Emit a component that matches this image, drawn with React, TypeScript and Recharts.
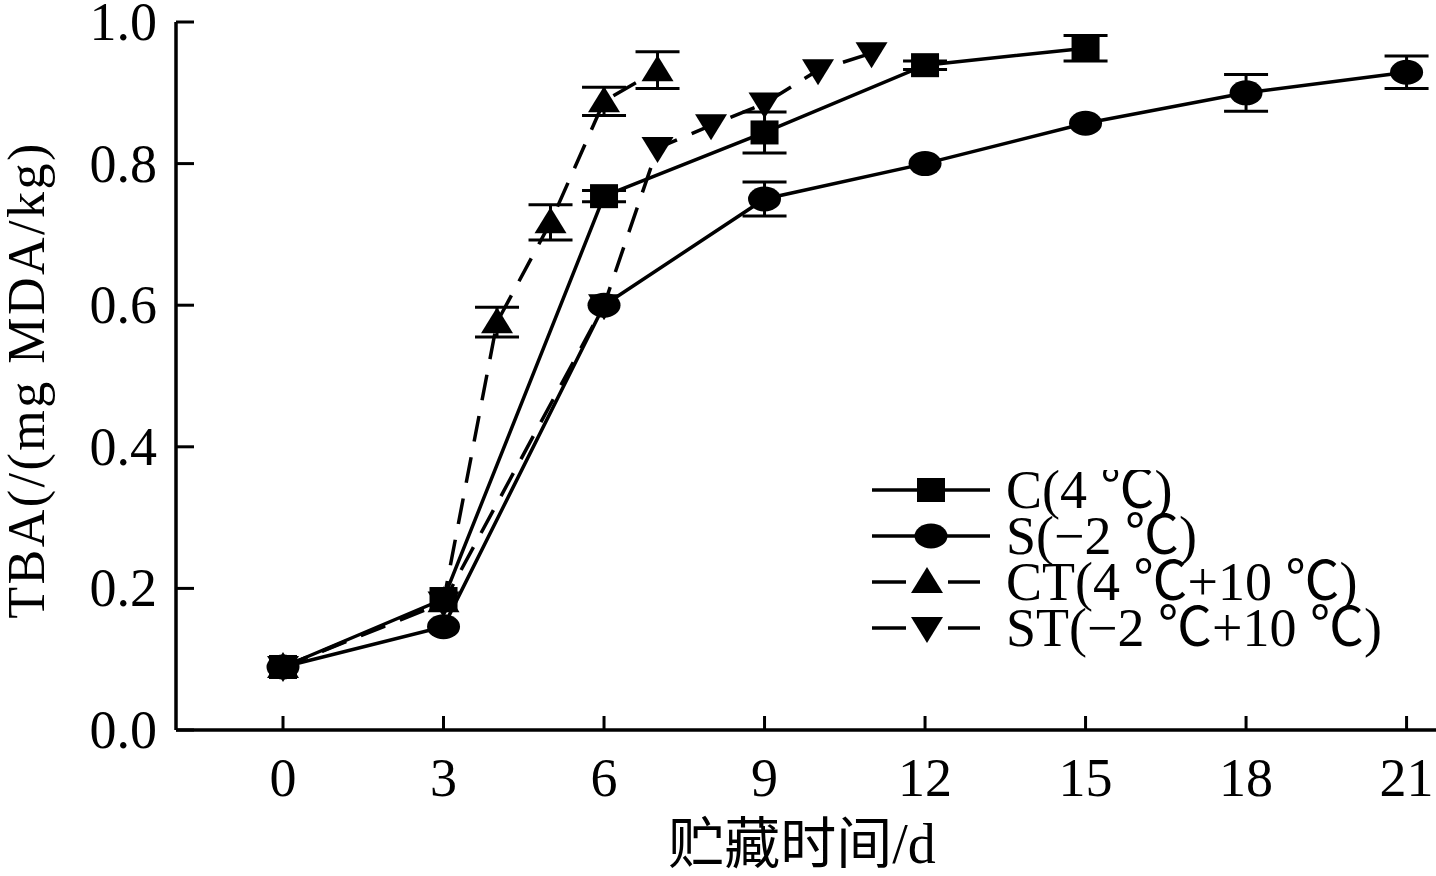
import React from 'react';
import { LineChart, Line, XAxis, YAxis, ErrorBar } from 'recharts';

// storage days and TBA values per treatment
const cDays = [0, 3, 6, 9, 12, 15];
const cTBA = [0.089, 0.185, 0.754, 0.844, 0.939, 0.963];
const cErr = [0, 0, 0.008, 0.029, 0.006, 0.018];

const sDays = [0, 3, 6, 9, 12, 15, 18, 21];
const sTBA = [0.089, 0.146, 0.6, 0.75, 0.8, 0.857, 0.9, 0.929];
const sErr = [0, 0, 0, 0.024, 0, 0, 0.026, 0.023];

const ctDays = [0, 3, 4, 5, 6, 7];
const ctTBA = [0.089, 0.182, 0.576, 0.717, 0.888, 0.932];
const ctErr = [0, 0, 0.021, 0.025, 0.02, 0.026];

const stDays = [0, 3, 6, 7, 8, 9, 10, 11];
const stTBA = [0.089, 0.18, 0.6, 0.822, 0.854, 0.885, 0.932, 0.956];
const stErr = [0, 0, 0, 0, 0, 0, 0, 0];

const xTicks = [0, 3, 6, 9, 12, 15, 18, 21];
const yTicks = [0, 0.2, 0.4, 0.6, 0.8, 1.0];

const seriesNames = ['C(4 ℃)', 'S(−2 ℃)', 'CT(4 ℃+10 ℃)', 'ST(−2 ℃+10 ℃)'];

const toRows = (days: number[], vals: number[], errs: number[]) =>
  days.map((d, i) => ({ day: d, tba: vals[i], err: errs[i] }));

const cData = toRows(cDays, cTBA, cErr);
const sData = toRows(sDays, sTBA, sErr);
const ctData = toRows(ctDays, ctTBA, ctErr);
const stData = toRows(stDays, stTBA, stErr);

const FONT = '"Liberation Serif", "Times New Roman", "Noto Sans CJK SC", serif';
const INK = '#000';
const DASH = '26 16';

type Shape = 'square' | 'circle' | 'up' | 'down';

function Marker({ cx, cy, shape }: { cx: number; cy: number; shape: Shape }) {
  if (shape === 'square') return <rect x={cx - 14} y={cy - 12} width={28} height={24} fill={INK} />;
  if (shape === 'circle') return <ellipse cx={cx} cy={cy} rx={16.5} ry={12.5} fill={INK} />;
  if (shape === 'up')
    return <polygon points={`${cx},${cy - 15} ${cx - 16},${cy + 11} ${cx + 16},${cy + 11}`} fill={INK} />;
  return <polygon points={`${cx},${cy + 15} ${cx - 16},${cy - 11} ${cx + 16},${cy - 11}`} fill={INK} />;
}

const dotOf = (shape: Shape) => (p: any) =>
  <Marker key={`${shape}-${p.index}`} cx={p.cx} cy={p.cy} shape={shape} />;

const XTick = ({ x, y, payload }: any) => (
  <g>
    <line x1={x} x2={x} y1={y} y2={y - 14} stroke={INK} strokeWidth={3} />
    <text x={x} y={y + 66} textAnchor="middle" fontSize={54} fontFamily={FONT} fill={INK}>
      {payload.value}
    </text>
  </g>
);

const YTick = ({ x, y, payload }: any) => (
  <g>
    <line x1={x} x2={x + 18} y1={y} y2={y} stroke={INK} strokeWidth={3} />
    <text x={x - 19} y={y + 18} textAnchor="end" fontSize={54} fontFamily={FONT} fill={INK}>
      {Number(payload.value).toFixed(1)}
    </text>
  </g>
);

const legendRows: { shape: Shape; dashed: boolean }[] = [
  { shape: 'square', dashed: false },
  { shape: 'circle', dashed: false },
  { shape: 'up', dashed: true },
  { shape: 'down', dashed: true },
];

const LegendBox = () => (
  <svg width={560} height={200} style={{ display: 'block' }}>
    {legendRows.map((r, i) => {
      const y = 20 + i * 46;
      return (
        <g key={i}>
          {r.dashed ? (
            <>
              <line x1={2} x2={36} y1={y} y2={y} stroke={INK} strokeWidth={3.5} />
              <line x1={78} x2={110} y1={y} y2={y} stroke={INK} strokeWidth={3.5} />
            </>
          ) : (
            <line x1={2} x2={120} y1={y} y2={y} stroke={INK} strokeWidth={3.5} />
          )}
          <Marker cx={r.dashed ? 57 : 61} cy={y} shape={r.shape} />
          <text x={136} y={y + 18} fontSize={54} fontFamily={FONT} fill={INK}>
            {seriesNames[i]}
          </text>
        </g>
      );
    })}
  </svg>
);

export default function App() {
  return (
    <div style={{ position: 'absolute', left: 0, top: 0, width: 1436, height: 876, background: '#fff' }}>
      <LineChart width={1436} height={876} margin={{ top: 22, right: 0, bottom: 0, left: 0 }}>
        <XAxis
          type="number"
          dataKey="day"
          domain={[-2, 21.55]}
          ticks={xTicks}
          allowDataOverflow
          height={146}
          axisLine={{ stroke: INK, strokeWidth: 3.5 }}
          tickLine={false}
          tickSize={0}
          tickMargin={0}
          tick={<XTick />}
          label={{
            content: (p: any) => (
              <text
                x={p.viewBox.x + p.viewBox.width / 2 - 4}
                y={p.viewBox.y + 133}
                textAnchor="middle"
                fontSize={56}
                fontFamily={FONT}
                fill={INK}
              >
                贮藏时间/d
              </text>
            ),
          }}
        />
        <YAxis
          type="number"
          domain={[0, 1]}
          ticks={yTicks}
          width={176}
          axisLine={{ stroke: INK, strokeWidth: 3.5 }}
          tickLine={false}
          tickSize={0}
          tickMargin={0}
          tick={<YTick />}
          label={{
            content: () => (
              <text
                x={44}
                y={380}
                transform="rotate(-90 44 380)"
                textAnchor="middle"
                fontSize={52}
                letterSpacing={2.5}
                fontFamily={FONT}
                fill={INK}
              >
                TBA(/(mg MDA/kg)
              </text>
            ),
          }}
        />
        <Line data={sData} dataKey="tba" stroke={INK} strokeWidth={3.5} dot={dotOf('circle')} isAnimationActive={false}>
          <ErrorBar dataKey="err" width={22} stroke={INK} strokeWidth={3} isAnimationActive={false} />
        </Line>
        <Line data={cData} dataKey="tba" stroke={INK} strokeWidth={3.5} dot={dotOf('square')} isAnimationActive={false}>
          <ErrorBar dataKey="err" width={22} stroke={INK} strokeWidth={3} isAnimationActive={false} />
        </Line>
        <Line
          data={ctData}
          dataKey="tba"
          stroke={INK}
          strokeWidth={3.5}
          strokeDasharray={DASH}
          dot={dotOf('up')}
          isAnimationActive={false}
        >
          <ErrorBar dataKey="err" width={22} stroke={INK} strokeWidth={3} isAnimationActive={false} />
        </Line>
        <Line
          data={stData}
          dataKey="tba"
          stroke={INK}
          strokeWidth={3.5}
          strokeDasharray={DASH}
          dot={dotOf('down')}
          isAnimationActive={false}
        >
          <ErrorBar dataKey="err" width={22} stroke={INK} strokeWidth={3} isAnimationActive={false} />
        </Line>
      </LineChart>
      <div style={{ position: 'absolute', left: 870, top: 470 }}>
        <LegendBox />
      </div>
    </div>
  );
}
